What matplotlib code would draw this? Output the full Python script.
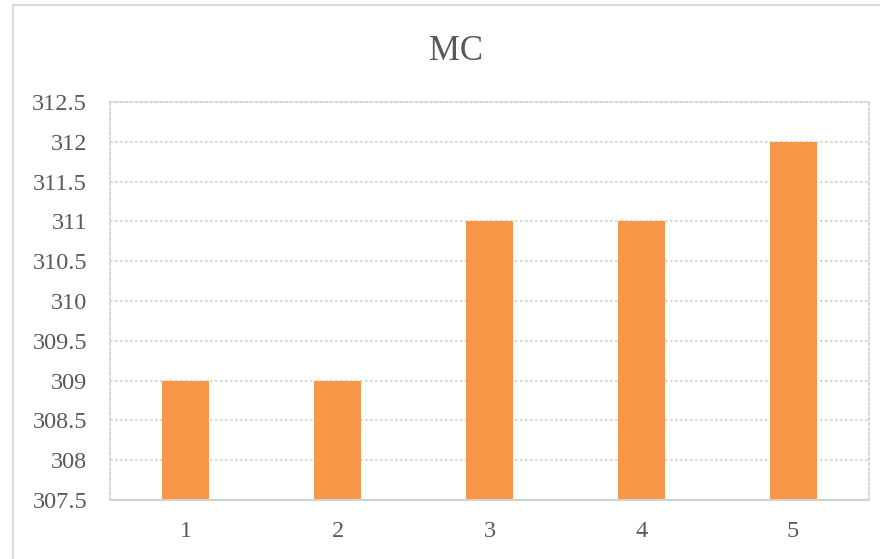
import matplotlib
matplotlib.use("Agg")
import matplotlib.pyplot as plt
from matplotlib.patches import Rectangle

categories = ["1", "2", "3", "4", "5"]
values = [309, 309, 311, 311, 312]
y_ticks = [307.5, 308, 308.5, 309, 309.5, 310, 310.5, 311, 311.5, 312, 312.5]
y_tick_labels = ["307.5", "308", "308.5", "309", "309.5", "310", "310.5", "311", "311.5", "312", "312.5"]
title = "MC"

W, H = 880, 559
fig = plt.figure(figsize=(W / 100, H / 100), dpi=100)
fig.patch.set_facecolor("white")

# outer chart frame (runs off the right and bottom edges)
fig.patches.append(Rectangle((13 / W, -0.05), 1.2, (H - 5) / H + 0.05,
                             transform=fig.transFigure, fill=False,
                             edgecolor="#d9d9d9", linewidth=1.5))

left, right, top, bottom = 110, 869, 102, 500
ax = fig.add_axes([left / W, 1 - bottom / H, (right - left) / W, (bottom - top) / H])

font = "Liberation Serif"
text_color = "#595959"

x = list(range(len(categories)))
ax.bar(x, [v - y_ticks[0] for v in values], bottom=y_ticks[0], width=0.31,
       color="#f79646", zorder=3)

ax.set_xlim(-0.5, len(categories) - 0.5)
ax.set_ylim(y_ticks[0], y_ticks[-1])
ax.set_yticks(y_ticks)
ax.set_yticklabels(y_tick_labels, fontfamily=font, fontsize=17.5, color=text_color)
ax.set_xticks(x)
ax.set_xticklabels(categories, fontfamily=font, fontsize=17.5, color=text_color)
ax.tick_params(axis="both", length=0)
ax.tick_params(axis="y", pad=16.5)
ax.tick_params(axis="x", pad=15)

ax.grid(axis="y", color="#d0d0d0", linestyle=(0, (1.5, 1.5)), linewidth=1.2, zorder=0)
for side in ("top", "left", "right"):
    ax.spines[side].set_color("#d0d0d0")
    ax.spines[side].set_linestyle((0, (1.5, 1.5)))
    ax.spines[side].set_linewidth(1.2)
ax.spines["bottom"].set_color("#d0d0d0")
ax.spines["bottom"].set_linewidth(1.5)
ax.spines["bottom"].set_zorder(4)

fig.text(456 / W, 1 - 52 / H, title, ha="center", va="center",
         fontfamily=font, fontsize=25, color=text_color)

fig.savefig("out.png", dpi=100)
